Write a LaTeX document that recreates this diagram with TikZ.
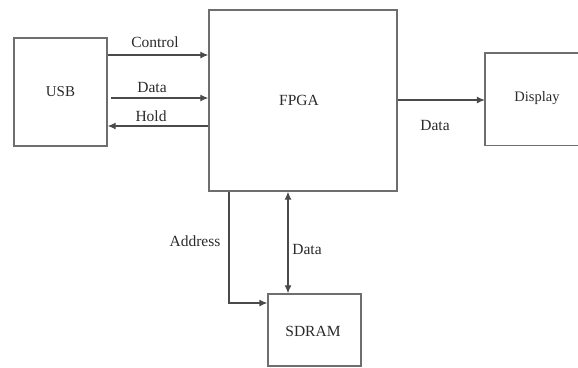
\documentclass[tikz,border=0pt]{standalone}
\usepackage{fontspec}
\setmainfont{Liberation Serif}
\usetikzlibrary{arrows.meta}
\definecolor{boxgray}{HTML}{6E6E6E}
\definecolor{linegray}{HTML}{4A4A4A}
\definecolor{txtgray}{HTML}{2A2A2A}
\begin{document}
\begin{tikzpicture}[x=1pt,y=-1pt,
  blk/.style={draw=boxgray,line width=1.4pt,inner sep=0pt,font=\fontsize{15}{17}\selectfont,text=txtgray},
  lbl/.style={inner sep=0pt,font=\fontsize{15.5}{17}\selectfont,text=txtgray},
  conn/.style={draw=linegray,line width=1.1pt,-{Latex[length=8pt,width=7pt]}},
  conn2/.style={draw=linegray,line width=1.1pt,{Latex[length=8pt,width=7pt]}-{Latex[length=8pt,width=7pt]}}]
\useasboundingbox (0,0) rectangle (578,367);
\node[blk,minimum width=93pt,minimum height=108pt] (usb) at (60.5,92) {USB};
\node[blk,minimum width=188pt,minimum height=181pt] (fpga) at (303,100.5) {};
\node[lbl] (fpgat) at (299,100) {FPGA};
\node[blk,minimum width=93pt,minimum height=72pt] (sdram) at (314.5,330) {};
\node[lbl] (sdramt) at (313,331) {SDRAM};
\node[lbl,minimum width=93pt,minimum height=92pt] (disp) at (531.5,99) {};
\node[lbl,font=\fontsize{14.5}{16}\selectfont] (dispt) at (537,98) {Display};
\draw[draw=boxgray,line width=1.4pt] (disp.north east) -- (disp.north west) -- (disp.south west) -- (disp.south east);
% labels
\node[lbl] (lc) at (155,42) {Control};
\node[lbl] (ld) at (152,87) {Data};
\node[lbl] (lh) at (151,116) {Hold};
\node[lbl] (lr) at (435,125) {Data};
\node[lbl] (la) at (195,241) {Address};
\node[lbl] (lb) at (307,249) {Data};
% connectors
\draw[conn] (usb.east |- 0,55) -- (fpga.west |- 0,55);
\draw[conn] (111,98) coordinate (dstart) -- (fpga.west |- dstart);
\draw[conn] (fpga.west |- 0,126) -- (usb.east |- 0,126);
\draw[conn] (fpga.east |- 0,100) -- (disp.west |- 0,100);
\draw[conn] (fpga.south -| 229,0) |- (sdram.west |- 0,303);
\draw[conn2] (fpga.south -| 288,0) -- (sdram.north -| 288,0);
\end{tikzpicture}
\end{document}
